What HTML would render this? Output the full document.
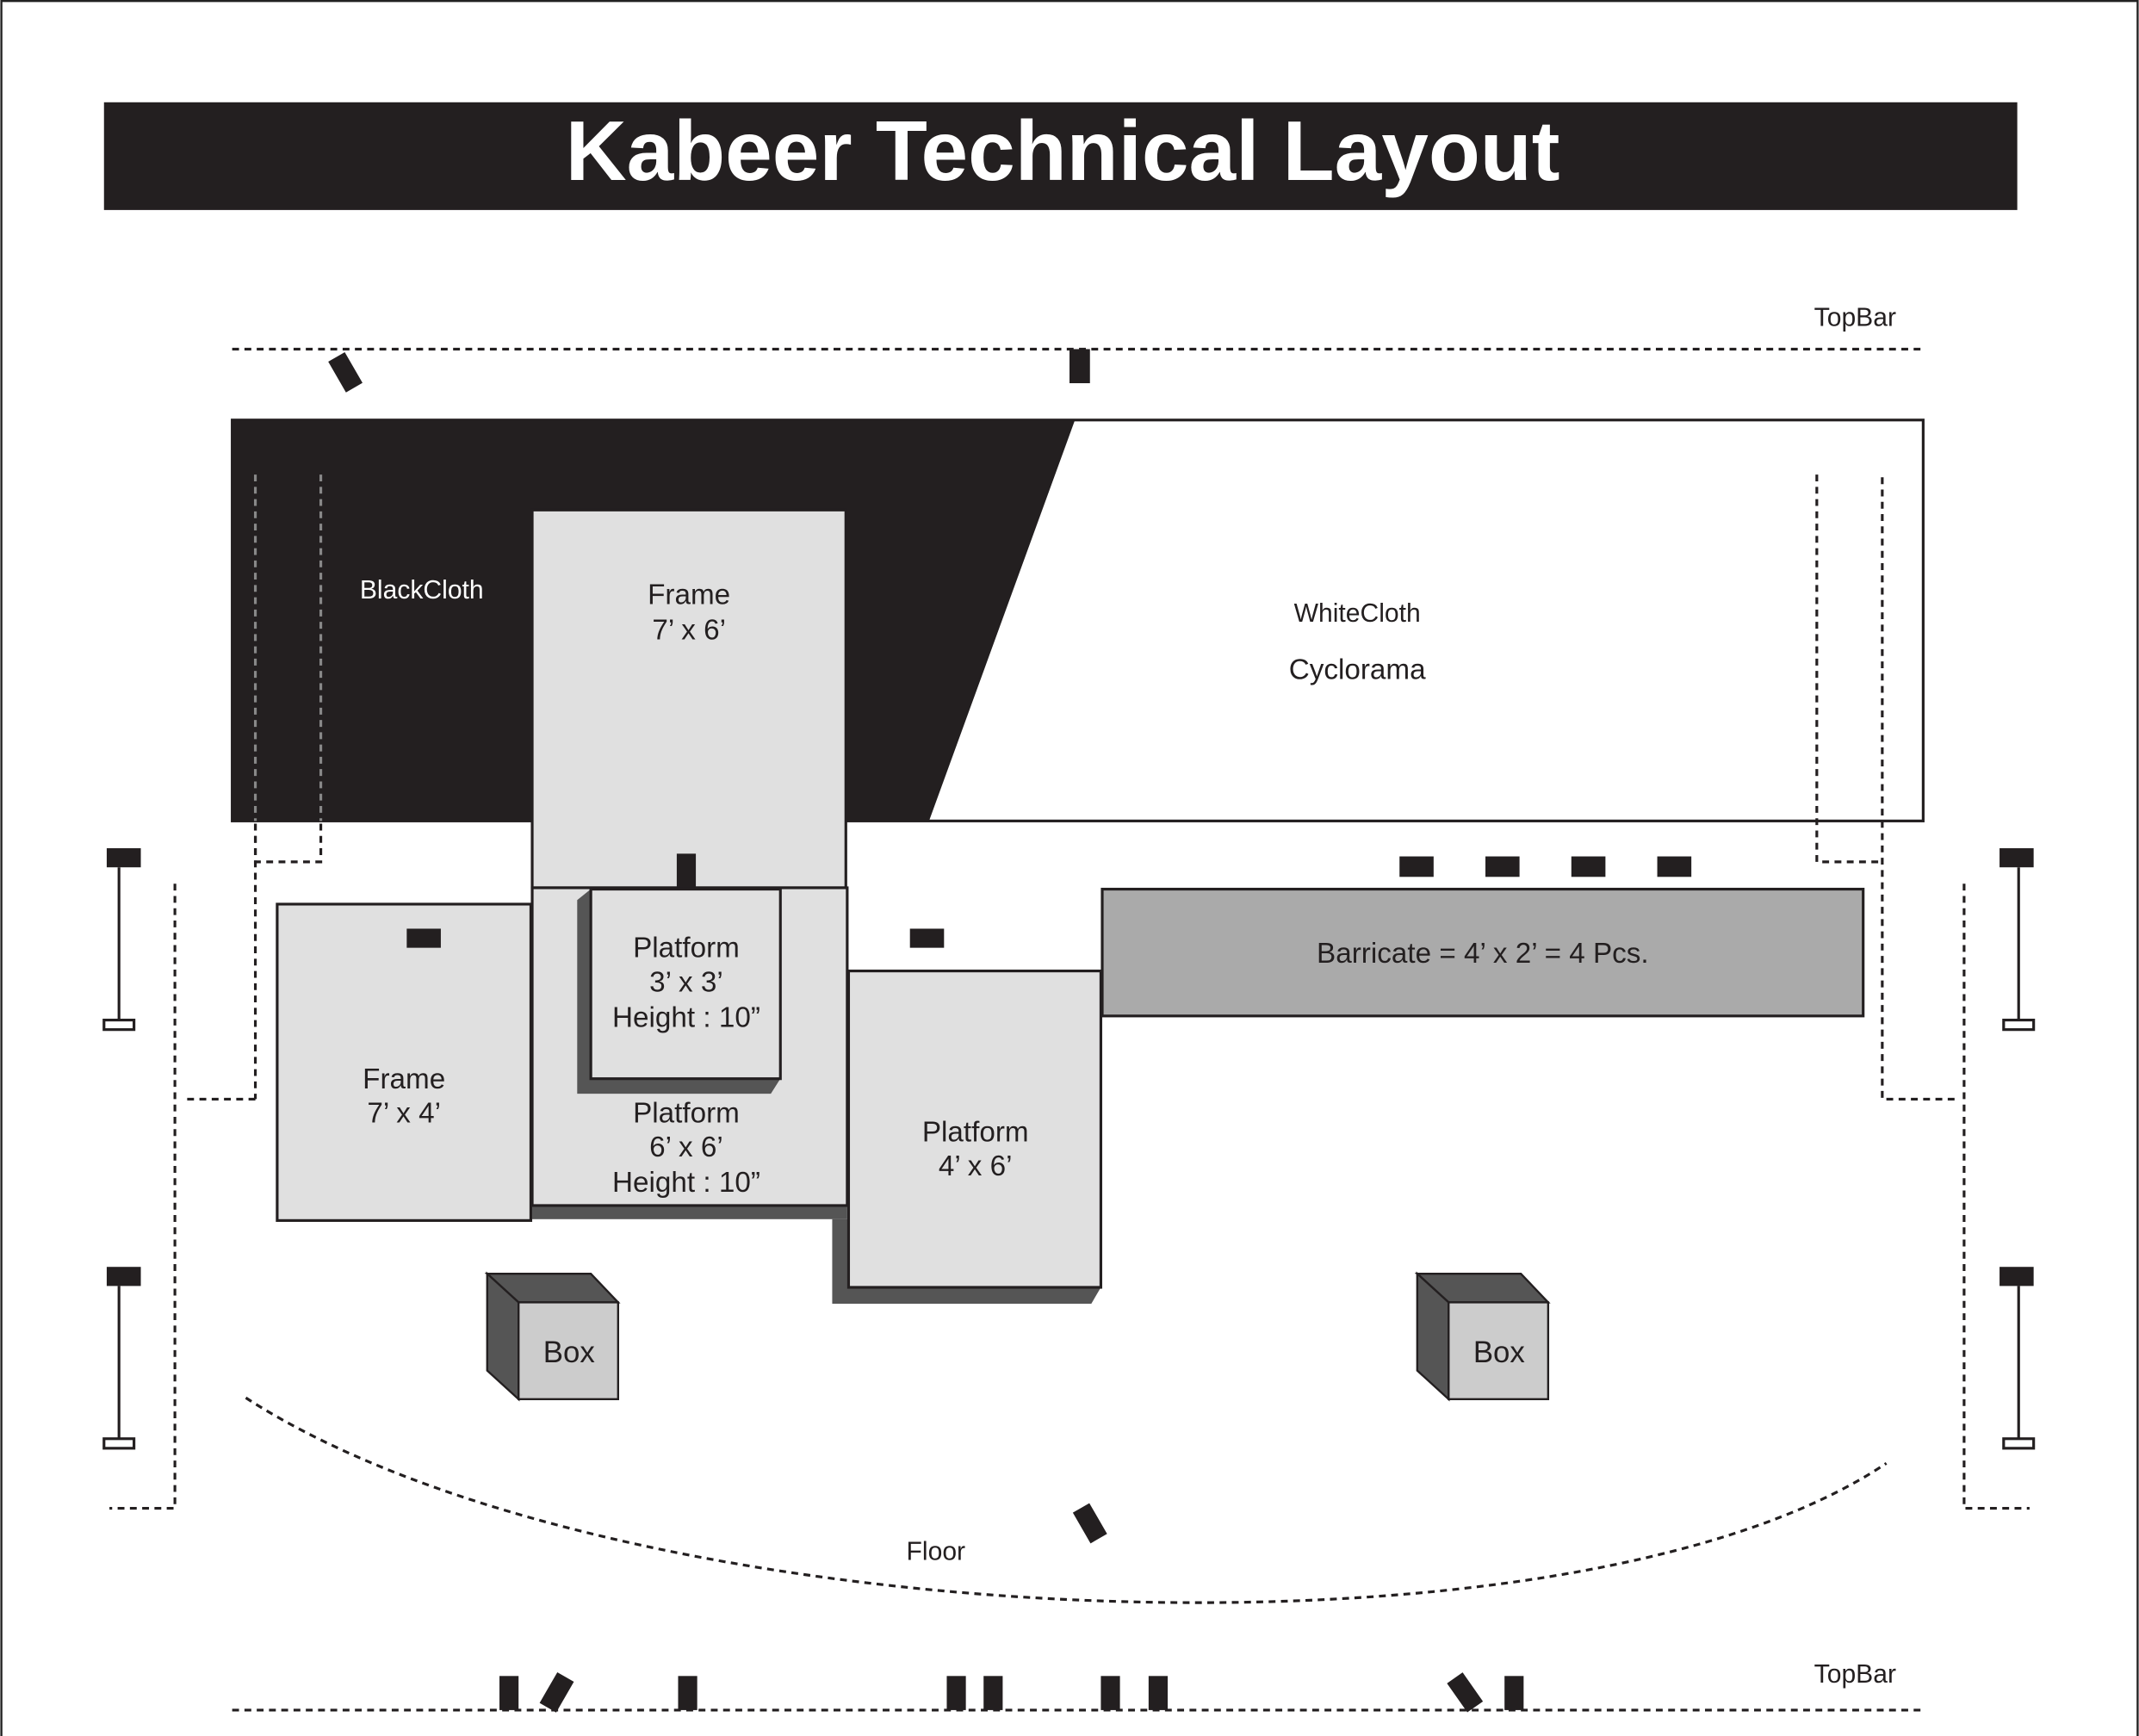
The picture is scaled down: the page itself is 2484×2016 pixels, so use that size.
<!DOCTYPE html>
<html><head><meta charset="utf-8"><style>
html,body{margin:0;padding:0;background:#fff;}
svg{display:block;}
text{font-family:"Liberation Sans",Arial,sans-serif;}
</style></head><body>
<svg width="2484" height="2016" viewBox="0 0 1568 1273" xmlns="http://www.w3.org/2000/svg">
<rect x="0" y="0" width="1568" height="1273" fill="#fff"/>
<rect x="0.75" y="0.75" width="1566.5" height="1290" fill="none" stroke="#222" stroke-width="1.5"/>
<rect x="76" y="75" width="1403" height="79" fill="#231f20"/>
<text x="779" y="132" font-size="62" font-weight="bold" fill="#fff" text-anchor="middle">Kabeer Technical Layout</text>

<rect x="170" y="308" width="1240" height="294" fill="#fff" stroke="#231f20" stroke-width="2"/>
<polygon points="170,308 788,308 681,602 170,602" fill="#231f20"/>

<g stroke="#231f20" stroke-width="2" stroke-dasharray="5,4" fill="none">
<line x1="170" y1="256" x2="1410" y2="256"/>
<line x1="170" y1="1254" x2="1410" y2="1254"/>
<path d="M180,1025 C450,1200 1150,1230 1383,1073"/>
<polyline points="128,648 128,1106 80,1106"/>
<polyline points="1440,648 1440,1106 1488,1106"/>
<polyline points="1332,348 1332,632 1380,632"/>
<polyline points="1380,350 1380,806 1436,806"/>
<polyline points="187,806 133,806"/>
<line x1="187" y1="604" x2="187" y2="806"/>
<polyline points="187,604 187,632 235,632 235,604"/>
</g>
<text x="1330" y="239" font-size="19" fill="#231f20">TopBar</text>
<text x="1330" y="1234" font-size="19" fill="#231f20">TopBar</text>

<g stroke="#888" stroke-width="2" stroke-dasharray="5,4" fill="none">
<line x1="187" y1="348" x2="187" y2="602"/>
<line x1="235" y1="348" x2="235" y2="602"/>
</g>
<text x="309" y="439" font-size="19" fill="#fff" text-anchor="middle">BlackCloth</text>
<text x="995" y="456" font-size="19" fill="#231f20" text-anchor="middle">WhiteCloth</text>
<text x="995" y="498" font-size="21" fill="#231f20" text-anchor="middle">Cyclorama</text>

<g fill="#231f20">
<rect x="78" y="622" width="25" height="14"/><rect x="78" y="929" width="25" height="14"/>
<rect x="1466" y="622" width="25" height="14"/><rect x="1466" y="929" width="25" height="14"/>
</g>
<g stroke="#231f20" stroke-width="2" fill="#fff">
<line x1="87" y1="636" x2="87" y2="748"/><rect x="76" y="748" width="22" height="7"/>
<line x1="87" y1="943" x2="87" y2="1055"/><rect x="76" y="1055" width="22" height="7"/>
<line x1="1480" y1="636" x2="1480" y2="748"/><rect x="1469" y="748" width="22" height="7"/>
<line x1="1480" y1="943" x2="1480" y2="1055"/><rect x="1469" y="1055" width="22" height="7"/>
</g>

<g fill="#555">
<rect x="390" y="884" width="231" height="10"/>
<polygon points="610,894 622,894 622,944 807,944 800,956 610,956"/>
</g>
<g stroke="#231f20" stroke-width="2" fill="#e0e0e0">
<rect x="390" y="374" width="230" height="277"/>
<rect x="390" y="651" width="231" height="233"/>
<rect x="622" y="712" width="185" height="232"/>
<rect x="203" y="663" width="186" height="232"/>
</g>
<polygon points="423,660 433,652 433,791 572,791 565,802 423,802" fill="#555"/>
<rect x="433" y="652" width="139" height="139" fill="#e0e0e0" stroke="#231f20" stroke-width="2"/>
<rect x="808" y="652" width="558" height="93" fill="#aaa" stroke="#231f20" stroke-width="2"/>

<g stroke="#231f20" stroke-width="1.5">
<polygon points="357,934 433,934 453,955 380,955" fill="#555"/>
<polygon points="357,934 380,955 380,1026 357,1005" fill="#555"/>
<rect x="380" y="955" width="73" height="71" fill="#ccc"/>
<polygon points="1039,934 1115,934 1135,955 1062,955" fill="#555"/>
<polygon points="1039,934 1062,955 1062,1026 1039,1005" fill="#555"/>
<rect x="1062" y="955" width="73" height="71" fill="#ccc"/>
</g>

<g font-size="21" fill="#231f20" text-anchor="middle">
<text x="505" y="443">Frame</text><text x="505" y="469">7’ x 6’</text>
<text x="503" y="702">Platform</text><text x="503" y="727">3’ x 3’</text><text x="503" y="753">Height : 10”</text>
<text x="503" y="823">Platform</text><text x="503" y="848">6’ x 6’</text><text x="503" y="874">Height : 10”</text>
<text x="296" y="798">Frame</text><text x="296" y="823">7’ x 4’</text>
<text x="715" y="837">Platform</text><text x="715" y="862">4’ x 6’</text>
<text x="1087" y="706">Barricate = 4’ x 2’ = 4 Pcs.</text>
<text x="417" y="999" font-size="22">Box</text><text x="1099" y="999" font-size="22">Box</text>
</g>
<text x="686" y="1144" font-size="19" fill="#231f20" text-anchor="middle">Floor</text>

<g fill="#231f20">
<rect x="784" y="256" width="15" height="25"/>
<rect x="246" y="260" width="14" height="26" transform="rotate(-30 253 273)"/>
<rect x="496" y="626" width="14" height="25"/>
<rect x="298" y="681" width="25" height="14"/>
<rect x="667" y="681" width="25" height="14"/>
<rect x="1026" y="628" width="25" height="15"/>
<rect x="1089" y="628" width="25" height="15"/>
<rect x="1152" y="628" width="25" height="15"/>
<rect x="1215" y="628" width="25" height="15"/>
<rect x="792" y="1104" width="14" height="26" transform="rotate(-30 799 1117)"/>
<rect x="366" y="1229" width="14" height="25"/>
<rect x="401" y="1228" width="14" height="26" transform="rotate(30 408 1241)"/>
<rect x="497" y="1229" width="14" height="25"/>
<rect x="694" y="1229" width="14" height="25"/>
<rect x="721" y="1229" width="14" height="25"/>
<rect x="807" y="1229" width="14" height="25"/>
<rect x="842" y="1229" width="14" height="25"/>
<rect x="1067" y="1228" width="14" height="26" transform="rotate(-35 1074 1241)"/>
<rect x="1103" y="1229" width="14" height="25"/>
</g>
</svg>
</body></html>
